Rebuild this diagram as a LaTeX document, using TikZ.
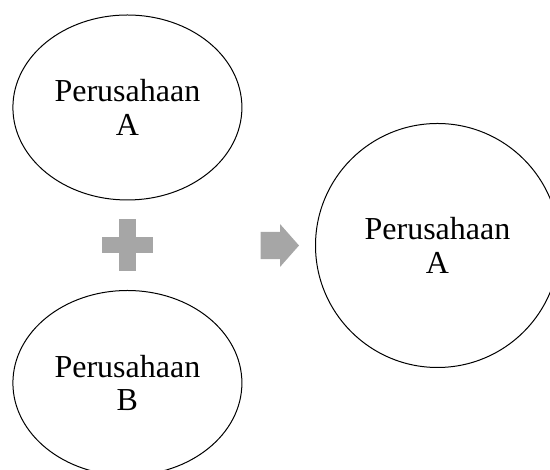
\documentclass[tikz,border=0pt]{standalone}
\usepackage{fontspec}
\setmainfont{Liberation Serif}
\usetikzlibrary{shapes.geometric}
\definecolor{signgray}{HTML}{A6A6A6}
\begin{document}
\begin{tikzpicture}
  [
    x=1pt, y=1pt,
    firm/.style =
      {draw, ellipse, line width=1pt, align=center, inner sep=0pt,
       minimum width=229pt, minimum height=185pt,
       font=\fontsize{32}{33.3}\selectfont},
    merged/.style =
      {draw, circle, line width=1pt, align=center, inner sep=0pt,
       minimum size=244pt, font=\fontsize{32}{33.3}\selectfont},
    sign/.style =
      {fill=signgray, draw=none}
  ]
  \useasboundingbox (0,0) rectangle (550,470);
  \node [firm]   at (127.4,362.5) (a) {Perusahaan\\A};
  \node [firm]   at (127.4, 87)   (b) {Perusahaan\\B};
  \node [merged] at (437.5,224.5) (m) {Perusahaan\\A};

  % plus sign between the two firms
  \coordinate (p) at (127.5,225);
  \fill[sign] ([xshift=-8.3pt,yshift=-26pt]p) rectangle ([xshift=8.3pt,yshift=26pt]p);
  \fill[sign] ([xshift=-25.8pt,yshift=-8.2pt]p) rectangle ([xshift=25.8pt,yshift=8.2pt]p);

  % block arrow towards the merged firm
  \coordinate (r) at (299,224.5);
  \fill[sign] ([xshift=-38.3pt,yshift=-13.7pt]r) -- ([xshift=-19pt,yshift=-13.7pt]r)
    -- ([xshift=-19pt,yshift=-21.5pt]r) -- (r) -- ([xshift=-19pt,yshift=21.5pt]r)
    -- ([xshift=-19pt,yshift=13.7pt]r) -- ([xshift=-38.3pt,yshift=13.7pt]r) -- cycle;
\end{tikzpicture}
\end{document}
